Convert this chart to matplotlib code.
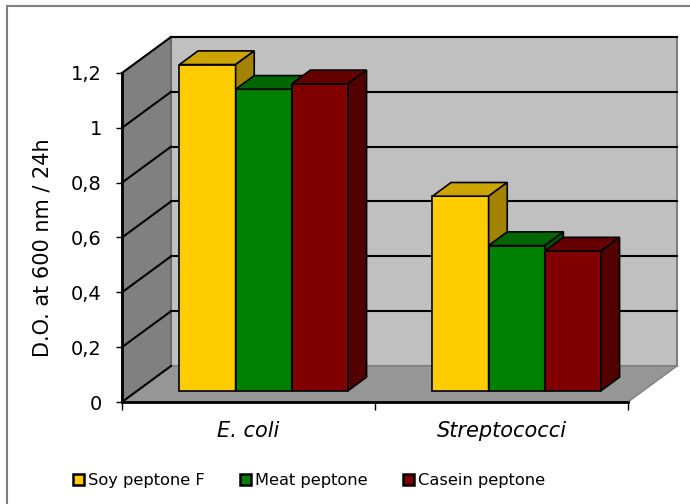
import matplotlib.pyplot as plt
from matplotlib.patches import Polygon, Rectangle

# chart data
categories = ["E. coli", "Streptococci"]
series = ["Soy peptone F", "Meat peptone", "Casein peptone"]
soy = [1.19, 0.71]
meat = [1.10, 0.53]
casein = [1.12, 0.51]
y_ticks = [0, 0.2, 0.4, 0.6, 0.8, 1.0, 1.2]
y_tick_labels = ["0", "0,2", "0,4", "0,6", "0,8", "1", "1,2"]

colors = ["#FFCC00", "#008000", "#800000"]
tops = ["#CCA300", "#006600", "#660000"]
sides = ["#A38200", "#005200", "#520000"]

# oblique "3D" projection: depth z (0..1) shifts to the right and up
DX = 49 / 253.0
DY = 36 / (329 / 1.2)
BAR_W = 0.222
Z0, Z1 = 0.31, 0.69


def proj(x, y, z):
    return (x + z * DX, y + z * DY)


def face(ax, pts, fc, ec="black", lw=1.2, zorder=2):
    poly = Polygon([proj(*p) for p in pts], closed=True, facecolor=fc,
                   edgecolor=ec, linewidth=lw, clip_on=False, zorder=zorder)
    ax.add_patch(poly)


fig = plt.figure(figsize=(6.9, 5.04), dpi=100)
ax = fig.add_axes([122 / 690, 102 / 504, 506 / 690, 329 / 504])
ax.set_xlim(0, len(categories))
ax.set_ylim(0, 1.2)
ax.patch.set_visible(False)

top_v = y_ticks[-1]
n = len(categories)

# walls and floor
face(ax, [(0, 0, 1), (n, 0, 1), (n, top_v, 1), (0, top_v, 1)], "#C0C0C0", ec="#808080", lw=1.5, zorder=0)
face(ax, [(0, 0, 0), (0, top_v, 0), (0, top_v, 1), (0, 0, 1)], "#808080", ec="#606060", lw=1, zorder=0)
face(ax, [(0, 0, 0), (n, 0, 0), (n, 0, 1), (0, 0, 1)], "#969696", ec="#808080", lw=1, zorder=0)

# gridlines on the left wall and the back wall
for t in y_ticks:
    p0, p1, p2 = proj(0, t, 0), proj(0, t, 1), proj(n, t, 1)
    ax.plot([p0[0], p1[0]], [p0[1], p1[1]], color="black", lw=1.5, clip_on=False, zorder=1)
    if t > 0:
        ax.plot([p1[0], p2[0]], [p1[1], p2[1]], color="black", lw=1.5, clip_on=False, zorder=1)

# bars, left to right so the painter's order hides the right faces
values = [soy, meat, casein]
for i in range(n):
    center = i + 0.5
    for j in range(len(series)):
        v = values[j][i]
        x0 = center - 1.5 * BAR_W + j * BAR_W
        x1 = x0 + BAR_W
        face(ax, [(x0, 0, Z0), (x1, 0, Z0), (x1, v, Z0), (x0, v, Z0)], colors[j])
        face(ax, [(x0, v, Z0), (x1, v, Z0), (x1, v, Z1), (x0, v, Z1)], tops[j])
        face(ax, [(x1, 0, Z0), (x1, 0, Z1), (x1, v, Z1), (x1, v, Z0)], sides[j])

# axes
for s in ["top", "right"]:
    ax.spines[s].set_visible(False)
for s in ["left", "bottom"]:
    ax.spines[s].set_linewidth(2)
    ax.spines[s].set_zorder(5)
ax.set_yticks(y_ticks)
ax.set_yticklabels(y_tick_labels, fontsize=14)
ax.tick_params(axis="y", direction="out", length=4.5, width=1, pad=10)
ax.set_xticks(range(n + 1))
ax.set_xticklabels([""] * (n + 1))
ax.tick_params(axis="x", which="major", direction="out", length=6, width=1)
ax.set_xticks([i + 0.5 for i in range(n)], minor=True)
ax.set_xticklabels(categories, minor=True, fontsize=15, style="italic")
ax.tick_params(axis="x", which="minor", length=0, pad=14)
ax.set_ylabel("D.O. at 600 nm / 24h", fontsize=15)
ax.yaxis.set_label_coords(-0.138, 0.47)

# legend
handles = [Rectangle((0, 0), 1, 1, facecolor=c, edgecolor="black", linewidth=1.8) for c in colors]
fig.legend(handles, series, loc="center", bbox_to_anchor=(309 / 690, 1 - 481 / 504),
           ncol=3, frameon=False, fontsize=11.7, handlelength=0.65, handleheight=0.65,
           handletextpad=0.25, columnspacing=2.2)

# outer chart border
fig.patches.append(Rectangle((7 / 690, -0.1), 1.2, 1.1 - 6 / 504, transform=fig.transFigure,
                             fill=False, edgecolor="#808080", linewidth=1.5))

fig.savefig("out.png", dpi=100)
